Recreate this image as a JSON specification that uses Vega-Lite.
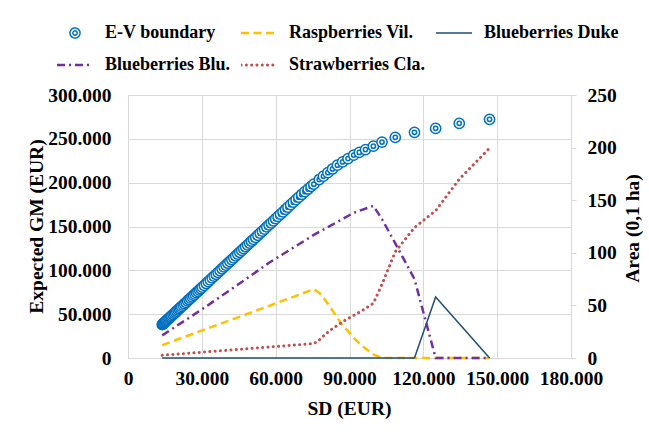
{
  "$schema": "https://vega.github.io/schema/vega-lite/v6.json",
  "width": 443,
  "height": 263,
  "autosize": {"type": "none"},
  "padding": {"left": 128, "top": 95, "right": 78, "bottom": 76},
  "background": "white",
  "config": {
    "view": {"stroke": null},
    "font": "Liberation Serif",
    "axis": {
      "labelFont": "Liberation Serif", "labelFontWeight": "bold", "labelFontSize": 19.5, "labelColor": "#000000",
      "titleFont": "Liberation Serif", "titleFontWeight": "bold", "titleFontSize": 19.5, "titleColor": "#000000",
      "gridColor": "#d9d9d9", "gridWidth": 1, "domainColor": "#d9d9d9", "tickColor": "#d9d9d9",
      "labelFlush": false, "labelOverlap": false
    }
  },
  "datasets": {
    "ev": [
      {"sd":13900,"gm":38100},{"sd":14100,"gm":38600},{"sd":14300,"gm":39100},{"sd":14600,"gm":39900},
      {"sd":14900,"gm":40700},{"sd":15200,"gm":41500},{"sd":15500,"gm":42300},{"sd":15800,"gm":43100},
      {"sd":16200,"gm":44100},{"sd":16600,"gm":45200},{"sd":17000,"gm":46200},{"sd":17400,"gm":47300},
      {"sd":17800,"gm":48300},{"sd":18300,"gm":49600},{"sd":18800,"gm":50900},{"sd":19300,"gm":52200},
      {"sd":19800,"gm":53600},{"sd":20300,"gm":54900},{"sd":20800,"gm":56200},{"sd":21300,"gm":57500},
      {"sd":21800,"gm":58800},{"sd":22400,"gm":60400},{"sd":23000,"gm":61900},{"sd":23600,"gm":63500},
      {"sd":24200,"gm":65100},{"sd":24800,"gm":66700},{"sd":25400,"gm":68200},{"sd":26000,"gm":69800},
      {"sd":26600,"gm":71400},{"sd":27200,"gm":72900},{"sd":27800,"gm":74500},{"sd":28400,"gm":76100},
      {"sd":29000,"gm":77700},{"sd":29600,"gm":79200},{"sd":30200,"gm":80800},{"sd":31000,"gm":82900},
      {"sd":31800,"gm":85000},{"sd":32600,"gm":87100},{"sd":33400,"gm":89200},{"sd":34200,"gm":91300},
      {"sd":35000,"gm":93400},{"sd":35800,"gm":95500},{"sd":36600,"gm":97600},{"sd":37400,"gm":99700},
      {"sd":38200,"gm":101800},{"sd":39000,"gm":103900},{"sd":39800,"gm":106000},{"sd":40600,"gm":108100},
      {"sd":41400,"gm":110200},{"sd":42200,"gm":112200},{"sd":43000,"gm":114300},{"sd":43800,"gm":116400},
      {"sd":44600,"gm":118500},{"sd":45400,"gm":120600},{"sd":46200,"gm":122700},{"sd":47000,"gm":124800},
      {"sd":47800,"gm":126900},{"sd":48600,"gm":129000},{"sd":49400,"gm":131100},{"sd":50200,"gm":133200},
      {"sd":51000,"gm":135300},{"sd":51900,"gm":137700},{"sd":52800,"gm":140000},{"sd":53700,"gm":142400},
      {"sd":54600,"gm":144700},{"sd":55500,"gm":147100},{"sd":56400,"gm":149500},{"sd":57300,"gm":151800},
      {"sd":58200,"gm":154200},{"sd":59100,"gm":156500},{"sd":60000,"gm":158900},{"sd":61000,"gm":161500},
      {"sd":62000,"gm":164100},{"sd":63000,"gm":166700},{"sd":64000,"gm":169400},{"sd":65000,"gm":172000},
      {"sd":66100,"gm":174900},{"sd":67200,"gm":177700},{"sd":68300,"gm":180600},{"sd":69400,"gm":183500},
      {"sd":70600,"gm":186500},{"sd":71900,"gm":189700},{"sd":73200,"gm":192800},{"sd":74400,"gm":195700},
      {"sd":75500,"gm":198300},{"sd":77700,"gm":203600},{"sd":79400,"gm":207400},{"sd":81200,"gm":211400},
      {"sd":83100,"gm":215600},{"sd":85100,"gm":220000},{"sd":87200,"gm":223700},{"sd":89400,"gm":227500},
      {"sd":91700,"gm":231500},{"sd":94000,"gm":234500},{"sd":96500,"gm":237700},{"sd":99700,"gm":241600},
      {"sd":103200,"gm":246300},{"sd":108600,"gm":251700},{"sd":116400,"gm":257400},{"sd":125000,"gm":262000},
      {"sd":134600,"gm":267700},{"sd":146900,"gm":272300}
    ],
    "area": [
      {"crop":"Raspberries Vil.","sd":13900,"area":12.3},
      {"crop":"Raspberries Vil.","sd":47000,"area":40.6},
      {"crop":"Raspberries Vil.","sd":75500,"area":65.4},
      {"crop":"Raspberries Vil.","sd":77700,"area":62},
      {"crop":"Raspberries Vil.","sd":79400,"area":57.5},
      {"crop":"Raspberries Vil.","sd":81200,"area":51.5},
      {"crop":"Raspberries Vil.","sd":83100,"area":45},
      {"crop":"Raspberries Vil.","sd":85100,"area":38},
      {"crop":"Raspberries Vil.","sd":87200,"area":31},
      {"crop":"Raspberries Vil.","sd":89400,"area":25.5},
      {"crop":"Raspberries Vil.","sd":91700,"area":19},
      {"crop":"Raspberries Vil.","sd":94000,"area":14},
      {"crop":"Raspberries Vil.","sd":96500,"area":9},
      {"crop":"Raspberries Vil.","sd":99700,"area":3.5},
      {"crop":"Raspberries Vil.","sd":103200,"area":0},
      {"crop":"Raspberries Vil.","sd":146900,"area":0},
      {"crop":"Blueberries Duke","sd":13900,"area":0},
      {"crop":"Blueberries Duke","sd":116400,"area":0},
      {"crop":"Blueberries Duke","sd":125000,"area":58},
      {"crop":"Blueberries Duke","sd":146900,"area":0},
      {"crop":"Blueberries Blu.","sd":13900,"area":21.5},
      {"crop":"Blueberries Blu.","sd":30200,"area":46.5},
      {"crop":"Blueberries Blu.","sd":47000,"area":73.5},
      {"crop":"Blueberries Blu.","sd":57300,"area":90.5},
      {"crop":"Blueberries Blu.","sd":75500,"area":117},
      {"crop":"Blueberries Blu.","sd":91700,"area":138},
      {"crop":"Blueberries Blu.","sd":99700,"area":144.6},
      {"crop":"Blueberries Blu.","sd":103200,"area":132},
      {"crop":"Blueberries Blu.","sd":108600,"area":109},
      {"crop":"Blueberries Blu.","sd":116400,"area":75},
      {"crop":"Blueberries Blu.","sd":125000,"area":0},
      {"crop":"Blueberries Blu.","sd":146900,"area":0},
      {"crop":"Strawberries Cla.","sd":13900,"area":2.6},
      {"crop":"Strawberries Cla.","sd":75500,"area":13.7},
      {"crop":"Strawberries Cla.","sd":77700,"area":17},
      {"crop":"Strawberries Cla.","sd":79400,"area":21},
      {"crop":"Strawberries Cla.","sd":81200,"area":24.5},
      {"crop":"Strawberries Cla.","sd":83100,"area":28},
      {"crop":"Strawberries Cla.","sd":85100,"area":31},
      {"crop":"Strawberries Cla.","sd":87200,"area":34.5},
      {"crop":"Strawberries Cla.","sd":89400,"area":37.5},
      {"crop":"Strawberries Cla.","sd":91700,"area":40.5},
      {"crop":"Strawberries Cla.","sd":94000,"area":43.5},
      {"crop":"Strawberries Cla.","sd":96500,"area":47},
      {"crop":"Strawberries Cla.","sd":99700,"area":52},
      {"crop":"Strawberries Cla.","sd":103200,"area":70},
      {"crop":"Strawberries Cla.","sd":108600,"area":101},
      {"crop":"Strawberries Cla.","sd":116400,"area":124},
      {"crop":"Strawberries Cla.","sd":125000,"area":140},
      {"crop":"Strawberries Cla.","sd":134600,"area":170},
      {"crop":"Strawberries Cla.","sd":146900,"area":199.5}
    ]
  },
  "encoding": {
    "x": {
      "field": "sd", "type": "quantitative",
      "scale": {"domain": [0, 180000], "nice": false, "zero": false},
      "axis": {
        "values": [0, 30000, 60000, 90000, 120000, 150000, 180000],
        "labelExpr": "datum.value === 0 ? '0' : format(datum.value / 1000, '.3f')",
        "title": "SD (EUR)", "grid": true, "ticks": false, "tickSize": 0, "labelPadding": 11,
        "titleX": 221, "titleY": 50, "titleBaseline": "middle", "titleAlign": "center"
      }
    }
  },
  "layer": [
    {
      "data": {"name": "ev"},
      "mark": {
        "type": "point",
        "shape": "M-1,0A1,1,0,1,1,1,0A1,1,0,1,1,-1,0ZM-0.42,0A0.42,0.42,0,1,1,0.42,0A0.42,0.42,0,1,1,-0.42,0Z",
        "filled": true, "fill": "white", "fillOpacity": 1, "stroke": "#0070C0", "strokeWidth": 1.5, "size": 105, "opacity": 1
      },
      "encoding": {
        "y": {
          "field": "gm", "type": "quantitative",
          "scale": {"domain": [0, 300000], "nice": false},
          "axis": {
            "orient": "left",
            "values": [0, 50000, 100000, 150000, 200000, 250000, 300000],
            "labelExpr": "datum.value === 0 ? '0' : format(datum.value / 1000, '.3f')",
            "title": "Expected GM (EUR)", "grid": true, "ticks": false, "tickSize": 0, "labelPadding": 17,
            "titleX": -92, "titleY": 131, "titleAngle": -90, "titleBaseline": "middle", "titleAlign": "center"
          }
        }
      }
    },
    {
      "data": {"name": "area"},
      "encoding": {
        "y": {
          "field": "area", "type": "quantitative",
          "scale": {"domain": [0, 250], "nice": false},
          "axis": {
            "orient": "right",
            "values": [0, 50, 100, 150, 200, 250],
            "title": "Area (0,1 ha)", "grid": false, "ticks": true, "tickSize": 5, "labelPadding": 11,
            "titleX": 61, "titleY": 133, "titleAngle": -90, "titleBaseline": "middle", "titleAlign": "center"
          }
        },
        "color": {
          "field": "crop", "type": "nominal",
          "scale": {
            "domain": ["E-V boundary", "Raspberries Vil.", "Blueberries Duke", "Blueberries Blu.", "Strawberries Cla."],
            "range": ["#0070C0", "#FFC000", "#1F4E79", "#7030A0", "#C0504D"]
          },
          "legend": {
            "orient": "none", "legendX": -71, "legendY": -72, "columns": 3, "direction": "horizontal",
            "title": null,
            "labelFont": "Liberation Serif", "labelFontWeight": "bold", "labelFontSize": 18, "labelColor": "#000000",
            "labelLimit": 400, "labelOffset": 12, "columnPadding": 11, "rowPadding": 12, "clipHeight": 20,
            "symbolType": "stroke", "symbolSize": 1296, "symbolStrokeWidth": 2.5,
            "encode": {
              "symbols": {
                "update": {
                  "x": {"value": 18},
                  "size": {"value": 1296},
                  "shape": {"signal": "datum.value === 'E-V boundary' ? 'M-0.28,0A0.28,0.28,0,1,1,0.28,0A0.28,0.28,0,1,1,-0.28,0ZM-0.12,0A0.12,0.12,0,1,1,0.12,0A0.12,0.12,0,1,1,-0.12,0Z' : 'stroke'"},
                  "strokeDash": {"signal": "datum.value === 'Raspberries Vil.' ? [8, 4.5] : datum.value === 'Blueberries Blu.' ? [8, 4, 2, 4] : datum.value === 'Strawberries Cla.' ? [0.1, 5.2] : [1, 0]"},
                  "strokeWidth": {"signal": "datum.value === 'Blueberries Duke' ? 1.5 : datum.value === 'E-V boundary' ? 1.5 : datum.value === 'Strawberries Cla.' ? 3 : 2.5"},
                  "strokeCap": {"signal": "datum.value === 'Strawberries Cla.' ? 'round' : 'butt'"}
                }
              },
              "labels": {
                "update": {
                  "x": {"value": 48}
                }
              }
            }
          }
        }
      },
      "layer": [
        {
          "transform": [{"filter": "datum.crop === 'Raspberries Vil.'"}],
          "mark": {"type": "line", "strokeWidth": 2.5, "strokeDash": [8, 4.5], "strokeCap": "butt"}
        },
        {
          "transform": [{"filter": "datum.crop === 'Blueberries Duke'"}],
          "mark": {"type": "line", "strokeWidth": 1.5}
        },
        {
          "transform": [{"filter": "datum.crop === 'Blueberries Blu.'"}],
          "mark": {"type": "line", "strokeWidth": 2.5, "strokeDash": [8, 4, 2, 4], "strokeCap": "butt"}
        },
        {
          "transform": [{"filter": "datum.crop === 'Strawberries Cla.'"}],
          "mark": {"type": "line", "strokeWidth": 3, "strokeDash": [0.1, 5.2], "strokeCap": "round"}
        }
      ]
    }
  ],
  "resolve": {"scale": {"y": "independent"}}
}
